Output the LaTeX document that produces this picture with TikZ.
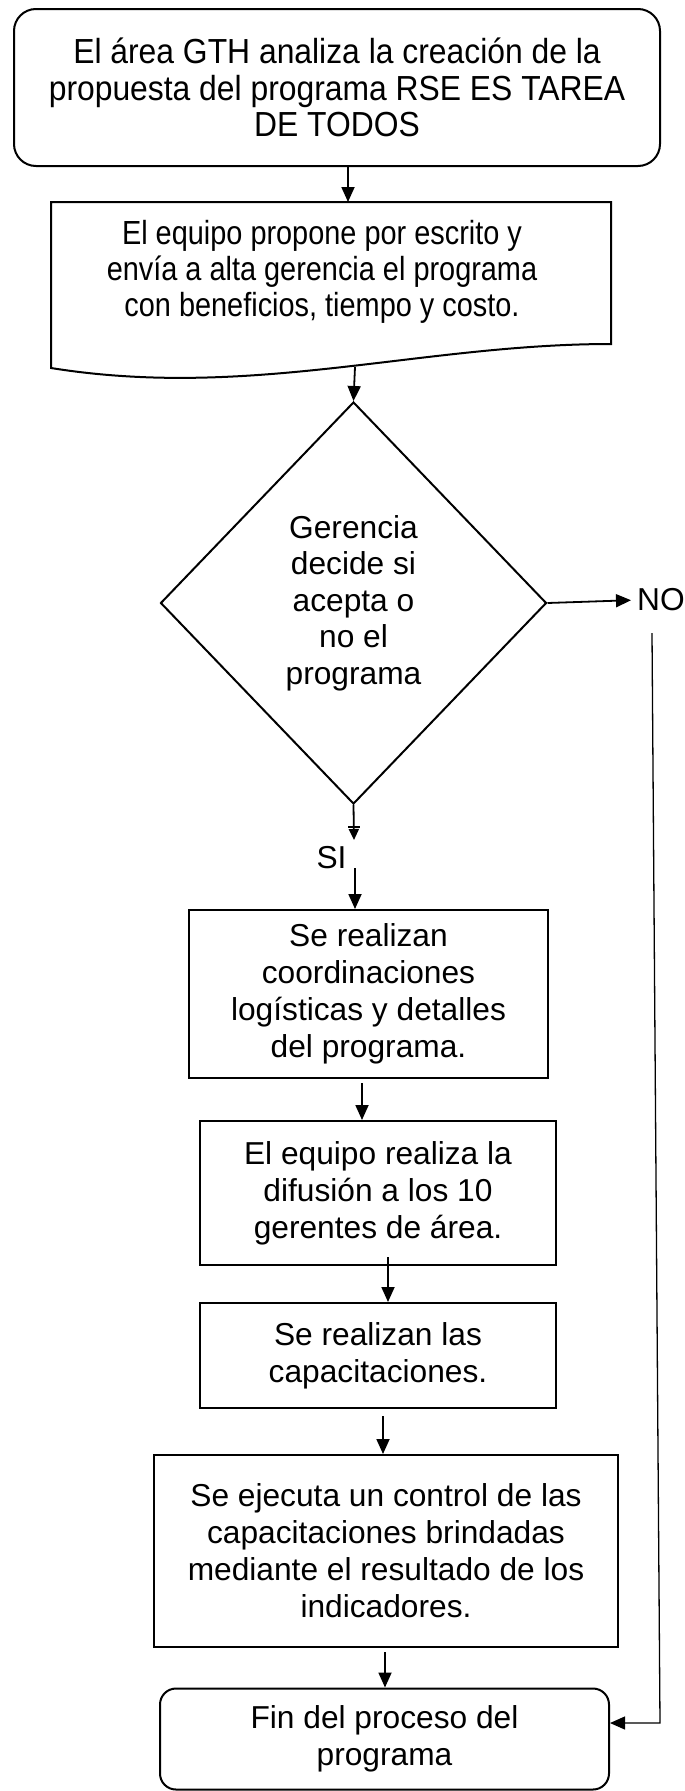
\documentclass[tikz,border=0pt]{standalone}
\usepackage{fontspec}
\setmainfont{Liberation Sans}
\newfontfamily\narrowfont[FakeStretch=0.915]{Liberation Sans}
\newfontfamily\docfont[FakeStretch=0.865]{Liberation Sans}
\usetikzlibrary{shapes.geometric,arrows.meta}
\begin{document}
\begin{tikzpicture}[x=1pt,y=-1pt,
  box/.style={draw, line width=2pt, align=center, inner sep=0pt},
  txt/.style={align=center, inner sep=0pt, font=\fontsize{31.7}{37}\selectfont},
  arr/.style={line width=1.8pt, -{Triangle[length=15pt,width=13pt]}},
  thinarr/.style={line width=1.3pt, -{Triangle[length=15pt,width=13pt]}}]
\useasboundingbox (0,0) rectangle (685,1791);
% start
\node[box, rounded corners=22pt, minimum width=646pt, minimum height=157pt,
  font=\narrowfont\fontsize{34.8}{36.5}\selectfont] (start) at (337,87.5)
  {El área GTH analiza la creación de la\\propuesta del programa RSE ES TAREA\\DE TODOS};
% document
\draw[line width=2pt] (51,202) -- (611,202) -- (611,344)
  .. controls (420,344) and (250,400) .. (51,368) -- cycle;
\node[align=center, inner sep=0pt, font=\docfont\fontsize{33.4}{36}\selectfont] (doc) at (322,272)
  {El equipo propone por escrito y\\envía a alta gerencia el programa\\con beneficios, tiempo y costo.};
\coordinate (docb) at (355,367);
\coordinate (dtop) at (348,202);
\draw[arr] (start.south -| dtop) -- (dtop);
% decision
\node[draw, diamond, line width=2pt, minimum width=386pt, minimum height=402pt,
  inner sep=0pt, align=center, font=\fontsize{31.7}{36.5}\selectfont] (dec) at (353.5,603)
  {Gerencia\\decide si\\acepta o\\no el\\programa};
\draw[arr] (docb) -- (dec.north);
% NO
\node[txt, anchor=west] (no) at (637,600) {NO};
\draw[arr, shorten >=6pt] (dec.east) -- (no.west);
% SI
\coordinate (sitip) at (354,840);
\coordinate (sibar) at (354,827);
\draw[line width=1.8pt, -{Triangle[length=11pt,width=10pt]}] (dec.south) -- (sitip);
\draw[line width=1.3pt] ([xshift=-6pt]sibar) -- ([xshift=6pt]sibar);
\node[txt, anchor=base] (si) at (331.5,868) {SI};
\coordinate (si2) at (355,868);
% boxes
\node[box, txt, minimum width=359pt, minimum height=168pt] (b3) at (368.5,994)
  {Se realizan\\coordinaciones\\logísticas y detalles\\del programa.};
\draw[arr] (si2) -- (si2 |- b3.north);
\node[box, txt, minimum width=356pt, minimum height=144pt] (b4) at (378,1193)
  {El equipo realiza la\\difusión a los 10\\gerentes de área.};
\coordinate (a4) at (362,1083);
\draw[arr] (a4) -- (a4 |- b4.north);
\node[box, txt, minimum width=356pt, minimum height=105pt] (b5) at (378,1355.5)
  {Se realizan las\\capacitaciones.};
\coordinate (a5) at (388,1257);
\draw[arr] (a5) -- (a5 |- b5.north);
\node[box, txt, minimum width=464pt, minimum height=192pt] (b6) at (386,1551)
  {Se ejecuta un control de las\\capacitaciones brindadas\\mediante el resultado de los\\indicadores.};
\coordinate (a6) at (383,1416);
\draw[arr] (a6) -- (a6 |- b6.north);
\node[box, txt, rounded corners=16pt, minimum width=449pt, minimum height=101pt] (fin) at (384.5,1739)
  {Fin del proceso del\\programa};
\coordinate (a7) at (385,1652);
\draw[arr] (a7) -- (a7 |- fin.north);
% return line
\coordinate (r1) at (652,633);
\coordinate (r2) at (660,1723);
\draw[thinarr] (r1) -- (r2) -- (r2 -| fin.east);
\end{tikzpicture}
\end{document}
